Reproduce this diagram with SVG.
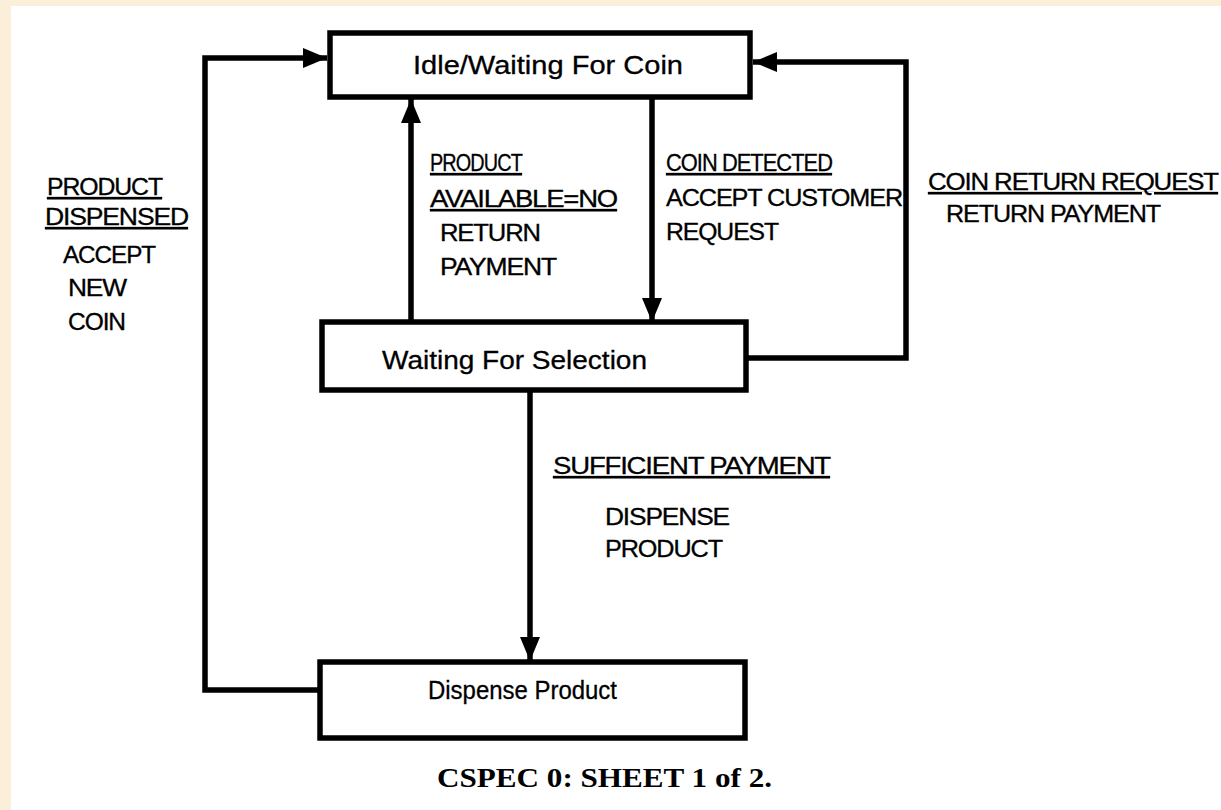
<svg xmlns="http://www.w3.org/2000/svg" width="1221" height="810" viewBox="0 0 1221 810">
<defs>
<style>
.box{fill:#fff;stroke:#000;stroke-width:5.5}
.ln{fill:none;stroke:#000;stroke-width:5.5;stroke-linejoin:miter}
.nt{font-family:"Liberation Sans",Arial,sans-serif;font-size:25px;fill:#000;stroke:#000;stroke-width:0.3}
.lb{font-family:"Liberation Sans",Arial,sans-serif;font-size:23px;fill:#000;stroke:#000;stroke-width:0.3;letter-spacing:-1px}
.ul{text-decoration:underline}
.cap{font-family:"Liberation Serif","Times New Roman",serif;font-size:28px;font-weight:bold;fill:#000}
</style>
<marker id="ah" viewBox="0 0 24 20" refX="24" refY="10" markerWidth="24" markerHeight="20" markerUnits="userSpaceOnUse" orient="auto">
<path d="M0,0 L24,10 L0,20 Z" fill="#000"/>
</marker>
</defs>
<rect x="0" y="0" width="1221" height="810" fill="#fcefda"/>
<rect x="11" y="6" width="1210" height="804" fill="#fff"/>

<g id="connectors">
<path class="ln" d="M320,690 L205,690 L205,58 L327,58" marker-end="url(#ah)"/>
<path class="ln" d="M746,358 L906,358 L906,62 L753,62" marker-end="url(#ah)"/>
<path class="ln" d="M652,97 L652,322" marker-end="url(#ah)"/>
<path class="ln" d="M411,322 L411,99" marker-end="url(#ah)"/>
<path class="ln" d="M530,390 L530,661" marker-end="url(#ah)"/>
</g>

<g id="idle">
<rect class="box" x="330" y="33" width="420" height="64"/>
<text class="nt" x="413" y="74" textLength="270" lengthAdjust="spacingAndGlyphs">Idle/Waiting  For  Coin</text>
</g>

<g id="waiting">
<rect class="box" x="322" y="322" width="424" height="68"/>
<text class="nt" x="382" y="369" textLength="265" lengthAdjust="spacingAndGlyphs">Waiting  For  Selection</text>
</g>

<g id="dispense">
<rect class="box" x="320" y="662" width="425" height="76"/>
<text class="nt" x="428" y="699" textLength="189" lengthAdjust="spacingAndGlyphs">Dispense Product</text>
</g>

<g id="label-product-dispensed">
<text class="lb ul" x="47" y="195" textLength="115" lengthAdjust="spacingAndGlyphs">PRODUCT</text>
<text class="lb ul" x="45" y="225" textLength="143" lengthAdjust="spacingAndGlyphs">DISPENSED</text>
<text class="lb" x="63" y="263" textLength="92" lengthAdjust="spacingAndGlyphs">ACCEPT</text>
<text class="lb" x="68" y="296" textLength="58" lengthAdjust="spacingAndGlyphs">NEW</text>
<text class="lb" x="68" y="330" textLength="57" lengthAdjust="spacingAndGlyphs">COIN</text>
</g>

<g id="label-product-available">
<text class="lb ul" x="430" y="171" textLength="92" lengthAdjust="spacingAndGlyphs">PRODUCT</text>
<text class="lb ul" x="430" y="207" textLength="187" lengthAdjust="spacingAndGlyphs">AVAILABLE=NO</text>
<text class="lb" x="440" y="241" textLength="100" lengthAdjust="spacingAndGlyphs">RETURN</text>
<text class="lb" x="440" y="275" textLength="116" lengthAdjust="spacingAndGlyphs">PAYMENT</text>
</g>

<g id="label-coin-detected">
<text class="lb ul" x="666" y="171" textLength="166" lengthAdjust="spacingAndGlyphs">COIN DETECTED</text>
<text class="lb" x="666" y="206" textLength="236" lengthAdjust="spacingAndGlyphs">ACCEPT CUSTOMER</text>
<text class="lb" x="666" y="240" textLength="112" lengthAdjust="spacingAndGlyphs">REQUEST</text>
</g>

<g id="label-coin-return">
<text class="lb ul" x="928" y="190" textLength="290" lengthAdjust="spacingAndGlyphs">COIN RETURN REQUEST</text>
<text class="lb" x="946" y="222" textLength="214" lengthAdjust="spacingAndGlyphs">RETURN PAYMENT</text>
</g>

<g id="label-sufficient">
<text class="lb ul" x="553" y="474" textLength="277" lengthAdjust="spacingAndGlyphs">SUFFICIENT PAYMENT</text>
<text class="lb" x="605" y="525" textLength="124" lengthAdjust="spacingAndGlyphs">DISPENSE</text>
<text class="lb" x="605" y="557" textLength="117" lengthAdjust="spacingAndGlyphs">PRODUCT</text>
</g>

<text class="cap" x="437" y="787" textLength="335" lengthAdjust="spacingAndGlyphs">CSPEC 0: SHEET 1 of 2.</text>
</svg>
